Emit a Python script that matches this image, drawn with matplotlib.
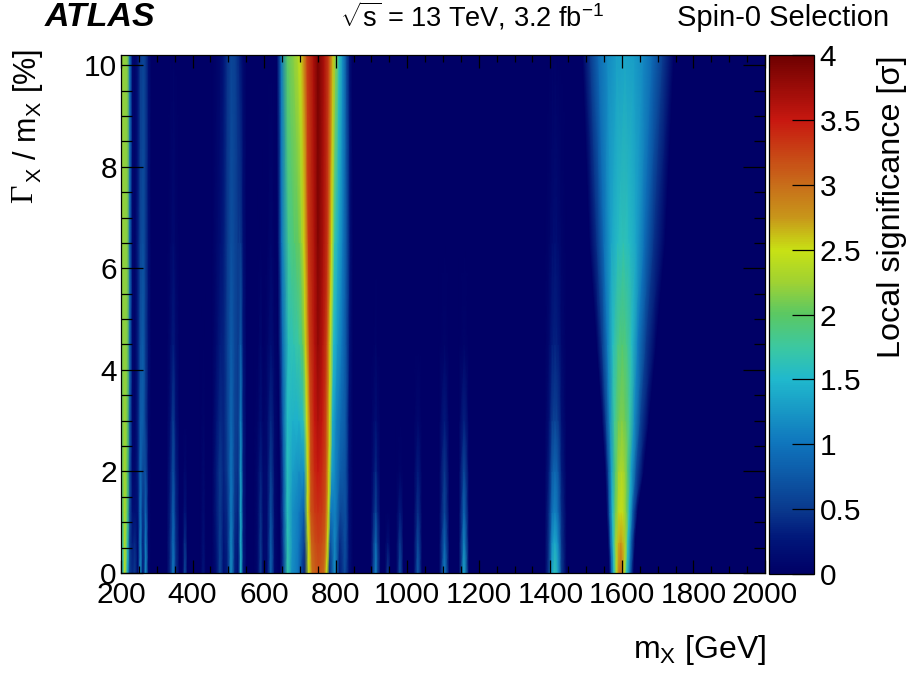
#!/usr/bin/env python3
"""Local significance scan in the (m_X, Gamma_X/m_X) plane, values read off the picture."""
import numpy as np
import matplotlib
matplotlib.use('Agg')
import matplotlib.pyplot as plt
from matplotlib.colors import LinearSegmentedColormap
from matplotlib.ticker import MultipleLocator

plt.rcParams['font.family'] = ['Liberation Sans', 'DejaVu Sans']
plt.rcParams['mathtext.fontset'] = 'custom'
plt.rcParams['mathtext.rm'] = 'Liberation Sans'
plt.rcParams['mathtext.it'] = 'Liberation Sans:italic'
plt.rcParams['mathtext.default'] = 'regular'

W, H = 910, 677

# rows of every table below (Gamma_X / m_X in %)
gamma_rows = [0, 0.6, 1.2, 2, 3, 4.5, 6.5, 10.2]

# ============================================================
# narrow bands below 640 GeV: fixed mass columns
# ============================================================
low_mass = [200, 205, 211, 218, 225, 232, 239, 247, 254, 262, 269, 277, 285,
            328, 338, 346, 354, 364, 372, 379, 386, 394,
            422, 430, 438,
            455, 467, 477, 487, 497, 508, 519, 528, 535, 542, 552,
            572, 582, 590, 598, 608, 619, 630, 640]
low_sig = [
    [1.0, 1.6, 2.45, 1.4, 0.5, 0.4, 0.5, 0.1, 1.2, 0.2, 1.2, 0.1, 0,
     0, 0.4, 1.05, 0.4, 0, 0, 0.65, 0, 0,
     0, 0.25, 0,
     0, 0.2, 0.6, 0.2, 0.3, 1.2, 0.3, 0.2, 1.5, 0.3, 0,
     0, 0.1, 0.55, 0.1, 0.1, 0.85, 0.1, 0],
    [1.2, 1.8, 2.4, 1.7, 0.5, 0.3, 0.4, 0.1, 1.1, 0.3, 1.1, 0.1, 0,
     0, 0.4, 0.95, 0.4, 0, 0, 0.45, 0, 0,
     0, 0.2, 0,
     0, 0.25, 0.55, 0.25, 0.35, 1.15, 0.35, 0.3, 1.45, 0.3, 0,
     0, 0.1, 0.5, 0.1, 0.1, 0.8, 0.1, 0],
    [1.4, 2.0, 2.35, 1.9, 0.6, 0.2, 0.2, 0.2, 1.0, 0.4, 0.9, 0.1, 0,
     0, 0.35, 0.85, 0.35, 0, 0, 0.25, 0, 0,
     0, 0.15, 0,
     0, 0.3, 0.5, 0.3, 0.4, 1.05, 0.45, 0.35, 1.4, 0.3, 0,
     0, 0.1, 0.45, 0.1, 0.1, 0.7, 0.1, 0],
    [1.6, 2.1, 2.3, 2.0, 0.7, 0.1, 0.1, 0.3, 0.9, 0.6, 0.7, 0.1, 0,
     0, 0.3, 0.7, 0.3, 0, 0, 0.1, 0, 0,
     0, 0.1, 0,
     0, 0.3, 0.5, 0.35, 0.5, 1.0, 0.5, 0.45, 1.3, 0.3, 0,
     0, 0.1, 0.35, 0.1, 0.1, 0.55, 0.1, 0],
    [1.8, 2.1, 2.25, 2.05, 0.8, 0.1, 0.05, 0.3, 0.8, 0.8, 0.5, 0.1, 0,
     0, 0.2, 0.55, 0.2, 0, 0, 0, 0, 0,
     0, 0.05, 0,
     0, 0.25, 0.4, 0.35, 0.55, 0.9, 0.55, 0.5, 1.1, 0.3, 0,
     0, 0.05, 0.2, 0.05, 0.1, 0.4, 0.1, 0],
    [2.0, 2.15, 2.2, 2.1, 0.9, 0.1, 0.05, 0.3, 0.7, 0.8, 0.5, 0.2, 0,
     0, 0.12, 0.3, 0.12, 0, 0, 0, 0, 0,
     0, 0.02, 0,
     0, 0.15, 0.3, 0.35, 0.55, 0.8, 0.6, 0.5, 0.8, 0.25, 0,
     0, 0, 0.1, 0, 0.05, 0.2, 0.05, 0],
    [2.1, 2.2, 2.2, 2.15, 0.9, 0.1, 0.05, 0.3, 0.6, 0.7, 0.5, 0.2, 0,
     0, 0.05, 0.15, 0.05, 0, 0, 0, 0, 0,
     0, 0, 0,
     0, 0.1, 0.2, 0.3, 0.5, 0.7, 0.6, 0.5, 0.5, 0.2, 0,
     0, 0, 0.03, 0, 0, 0.08, 0, 0],
    [2.2, 2.2, 2.2, 2.15, 1.0, 0.1, 0.05, 0.2, 0.5, 0.6, 0.5, 0.2, 0,
     0, 0, 0.03, 0, 0, 0, 0, 0, 0,
     0, 0, 0,
     0, 0.05, 0.1, 0.25, 0.45, 0.6, 0.55, 0.4, 0.25, 0.1, 0,
     0, 0, 0, 0, 0, 0, 0, 0],
]

# ============================================================
# small bands 900-1450 GeV
# ============================================================
mid_mass = [898, 906, 912, 918, 926,
            938, 946, 954,
            970, 980, 990,
            1018, 1030, 1042,
            1090, 1104, 1118,
            1145, 1159, 1173,
            1385, 1396, 1405, 1413, 1422, 1432, 1445]
mid_sig = [
    [0, 0.6, 1.1, 0.6, 0, 0, 0.5, 0, 0, 0.7, 0, 0, 0.8, 0, 0, 1.1, 0, 0, 1.4, 0, 0, 0.5, 1.35, 1.65, 1.3, 0.5, 0],
    [0, 0.5, 0.9, 0.5, 0, 0, 0.2, 0, 0, 0.5, 0, 0, 0.65, 0, 0, 0.9, 0, 0, 1.15, 0, 0, 0.45, 1.2, 1.4, 1.15, 0.45, 0],
    [0, 0.35, 0.6, 0.35, 0, 0, 0, 0, 0, 0.3, 0, 0, 0.45, 0, 0, 0.65, 0, 0, 0.9, 0, 0, 0.4, 0.95, 1.1, 0.9, 0.4, 0],
    [0, 0.2, 0.4, 0.2, 0, 0, 0, 0, 0, 0.05, 0, 0, 0.3, 0, 0, 0.5, 0, 0, 0.65, 0, 0, 0.3, 0.75, 0.9, 0.75, 0.3, 0],
    [0, 0.1, 0.2, 0.1, 0, 0, 0, 0, 0, 0, 0, 0, 0.1, 0, 0, 0.3, 0, 0, 0.35, 0, 0, 0.2, 0.5, 0.6, 0.5, 0.2, 0],
    [0, 0, 0.05, 0, 0, 0, 0, 0, 0, 0, 0, 0, 0, 0, 0, 0.05, 0, 0, 0.05, 0, 0, 0.1, 0.3, 0.35, 0.3, 0.1, 0],
    [0, 0, 0, 0, 0, 0, 0, 0, 0, 0, 0, 0, 0, 0, 0, 0, 0, 0, 0, 0, 0, 0.05, 0.15, 0.2, 0.15, 0.05, 0],
    [0, 0, 0, 0, 0, 0, 0, 0, 0, 0, 0, 0, 0, 0, 0, 0, 0, 0, 0, 0, 0, 0, 0, 0, 0, 0, 0],
]

# ============================================================
# 750 GeV excess: the mass of each knot drifts with the width
# ============================================================
main_mass = [
    [645, 655, 666, 678, 695, 713, 725, 735, 745, 752, 760, 768, 775, 783, 797, 811, 826, 838, 848],
    [645, 655, 666, 680, 697, 713, 724, 733, 743, 752, 762, 771, 778, 785, 798, 812, 827, 838, 848],
    [644, 655, 665, 680, 697, 712, 722, 731, 742, 751, 762, 772, 780, 787, 799, 813, 828, 838, 848],
    [644, 655, 665, 680, 697, 712, 722, 731, 741, 751, 762, 773, 782, 790, 800, 813, 828, 838, 848],
    [642, 653, 665, 680, 697, 710, 720, 730, 741, 751, 763, 774, 784, 792, 802, 815, 828, 838, 848],
    [640, 652, 668, 683, 698, 708, 716, 727, 741, 751, 764, 775, 785, 795, 805, 818, 830, 840, 848],
    [638, 650, 668, 685, 698, 706, 712, 724, 741, 751, 766, 778, 789, 797, 807, 820, 832, 841, 848],
    [636, 648, 665, 680, 692, 700, 708, 720, 738, 751, 768, 781, 793, 800, 810, 820, 830, 840, 846],
]
main_sig = [
    [0, 0.6, 1.7, 1.2, 1.0, 0.3, 2.5, 3.0, 3.1, 3.15, 3.1, 3.0, 2.5, 0.4, 1.2, 0.3, 0.65, 0.2, 0],
    [0, 0.7, 1.65, 1.2, 1.0, 0.5, 2.5, 3.05, 3.2, 3.25, 3.2, 3.05, 2.5, 0.7, 1.15, 0.4, 0.7, 0.2, 0],
    [0, 0.75, 1.6, 1.2, 1.05, 0.8, 2.5, 3.15, 3.3, 3.35, 3.3, 3.15, 2.5, 1.0, 1.1, 0.6, 0.7, 0.2, 0],
    [0, 0.8, 1.6, 1.3, 1.2, 1.2, 2.5, 3.2, 3.4, 3.5, 3.4, 3.2, 2.5, 1.3, 1.1, 0.8, 0.7, 0.2, 0],
    [0, 0.8, 1.55, 1.45, 1.45, 1.6, 2.5, 3.2, 3.5, 3.65, 3.5, 3.2, 2.5, 1.4, 1.1, 0.9, 0.75, 0.2, 0],
    [0, 0.9, 1.6, 1.65, 1.75, 2.0, 2.55, 3.25, 3.6, 3.8, 3.6, 3.25, 2.5, 1.5, 1.25, 1.0, 0.7, 0.2, 0],
    [0, 1.0, 1.8, 1.95, 2.05, 2.25, 2.55, 3.3, 3.65, 3.9, 3.65, 3.3, 2.5, 1.7, 1.4, 1.05, 0.65, 0.2, 0],
    [0, 1.0, 2.0, 2.15, 2.3, 2.45, 2.7, 3.25, 3.65, 3.95, 3.65, 3.25, 2.6, 2.2, 1.6, 1.2, 0.7, 0.2, 0],
]

# ============================================================
# 1600 GeV excess
# ============================================================
high_mass = [
    [1565, 1572, 1578, 1585, 1591, 1596, 1601, 1607, 1614, 1623, 1632],
    [1562, 1569, 1576, 1584, 1591, 1597, 1603, 1610, 1617, 1626, 1636],
    [1558, 1566, 1574, 1583, 1591, 1598, 1605, 1613, 1621, 1631, 1643],
    [1554, 1563, 1572, 1582, 1591, 1599, 1607, 1616, 1626, 1640, 1660],
    [1545, 1556, 1567, 1579, 1590, 1600, 1610, 1622, 1635, 1652, 1675],
    [1530, 1545, 1560, 1575, 1589, 1601, 1613, 1628, 1645, 1668, 1695],
    [1510, 1530, 1550, 1570, 1588, 1604, 1620, 1640, 1663, 1690, 1720],
    [1490, 1512, 1535, 1560, 1585, 1608, 1632, 1658, 1685, 1715, 1745],
]
high_sig = [
    [0, 0.9, 1.6, 2.4, 2.9, 3.05, 2.9, 2.4, 1.6, 0.9, 0],
    [0, 0.9, 1.6, 2.3, 2.65, 2.75, 2.65, 2.3, 1.6, 0.9, 0],
    [0, 0.8, 1.5, 2.1, 2.4, 2.5, 2.4, 2.1, 1.5, 0.8, 0],
    [0, 0.7, 1.35, 1.95, 2.25, 2.35, 2.25, 1.95, 1.35, 0.7, 0],
    [0, 0.6, 1.2, 1.75, 2.05, 2.15, 2.05, 1.75, 1.2, 0.6, 0],
    [0, 0.5, 1.05, 1.55, 1.85, 1.95, 1.85, 1.55, 1.05, 0.5, 0],
    [0, 0.45, 0.95, 1.35, 1.55, 1.65, 1.55, 1.35, 0.95, 0.45, 0],
    [0, 0.5, 0.9, 1.15, 1.3, 1.35, 1.3, 1.15, 0.9, 0.5, 0],
]

# colour scale
cmap_levels = [0, 0.25, 0.5, 1.0, 1.5, 1.75, 2.0, 2.25, 2.5, 2.75, 3.0, 3.5, 4.0]
cmap_colors = ['#000066', '#001478', '#0a3a8e', '#0f75bd', '#20b9cd', '#3cc8a0', '#5ac864',
               '#a0d232', '#c8e114', '#c8961a', '#c86e1a', '#c81810', '#6e0000']
cmap = LinearSegmentedColormap.from_list('signif', [(v / 4, c) for v, c in zip(cmap_levels, cmap_colors)], N=256)

x_ticks = [200, 400, 600, 800, 1000, 1200, 1400, 1600, 1800, 2000]
y_ticks = [0, 2, 4, 6, 8, 10]
z_ticks = [0, 0.5, 1, 1.5, 2, 2.5, 3, 3.5, 4]
z_tick_labels = ['0', '0.5', '1', '1.5', '2', '2.5', '3', '3.5', '4']


def px_axes(x0, y0, x1, y1):
    # pixel box (y down) to figure fraction
    return [x0 / W, 1 - y1 / H, (x1 - x0) / W, (y1 - y0) / H]


def px(x, y):
    return x / W, 1 - y / H


fig = plt.figure(figsize=(W / 100, H / 100), dpi=100)
ax = fig.add_axes(px_axes(121, 55, 765, 573))
ax.set_facecolor(cmap(0.0))

for mass, sig in [(low_mass, low_sig), (mid_mass, mid_sig), (main_mass, main_sig), (high_mass, high_sig)]:
    sig = np.array(sig, dtype=float)
    mass = np.array(mass, dtype=float)
    if mass.ndim == 1:
        mass = np.tile(mass, (len(gamma_rows), 1))
    yy = np.tile(np.array(gamma_rows, dtype=float)[:, None], (1, sig.shape[1]))
    mesh = ax.pcolormesh(mass, yy, sig, shading='gouraud', cmap=cmap, vmin=0, vmax=4)

ax.set_xlim(200, 2000)
ax.set_ylim(0, 10.2)
ax.set_xticks(x_ticks)
ax.set_yticks(y_ticks)
ax.xaxis.set_minor_locator(MultipleLocator(50))
ax.yaxis.set_minor_locator(MultipleLocator(0.5))
ax.tick_params(axis='x', which='major', direction='in', top=True, length=9.5, width=0.9, labelsize=21.5, pad=6)
ax.tick_params(axis='x', which='minor', direction='in', top=True, length=5, width=0.9)
ax.tick_params(axis='y', which='major', direction='in', right=True, length=16, width=0.9, labelsize=21.5, pad=3)
ax.tick_params(axis='y', which='minor', direction='in', right=True, length=8, width=0.9)
for s in ax.spines.values():
    s.set_linewidth(0.9)

cax = fig.add_axes(px_axes(769, 55, 814, 574))
cb = fig.colorbar(mesh, cax=cax)
cb.set_ticks(z_ticks)
cb.set_ticklabels(z_tick_labels)
cb.minorticks_off()
cax.tick_params(axis='y', which='major', direction='in', length=16, width=0.9, labelsize=21.5, pad=4)
cb.outline.set_linewidth(0.9)

fig.text(*px(889, 18), 'Spin-0 Selection', fontsize=21, ha='right', va='center')
fig.text(*px(340, 16), r'$\sqrt{s}$ = 13 TeV, 3.2 fb$^{-1}$', fontsize=19.5, ha='left', va='center')
fig.text(*px(45, 17), 'ATLAS', fontsize=24.4, fontweight='bold', fontstyle='italic', ha='left', va='center')

fig.text(*px(766, 650), r'm$_{X}$ [GeV]', fontsize=23, ha='right', va='center')
fig.text(*px(892, 55), r'Local significance [σ]', fontsize=23.3, rotation=90, ha='center', va='top')

# Gamma is serif in the original, the rest of the label is not
fig.text(*px(25, 203), 'Γ', fontsize=23, family='Liberation Serif', rotation=90, ha='center', va='bottom')
fig.text(*px(28, 183), r'$_{X}$ / m$_{X}$ [%]', fontsize=22, rotation=90, ha='center', va='bottom')

fig.savefig('out.png', dpi=100)
